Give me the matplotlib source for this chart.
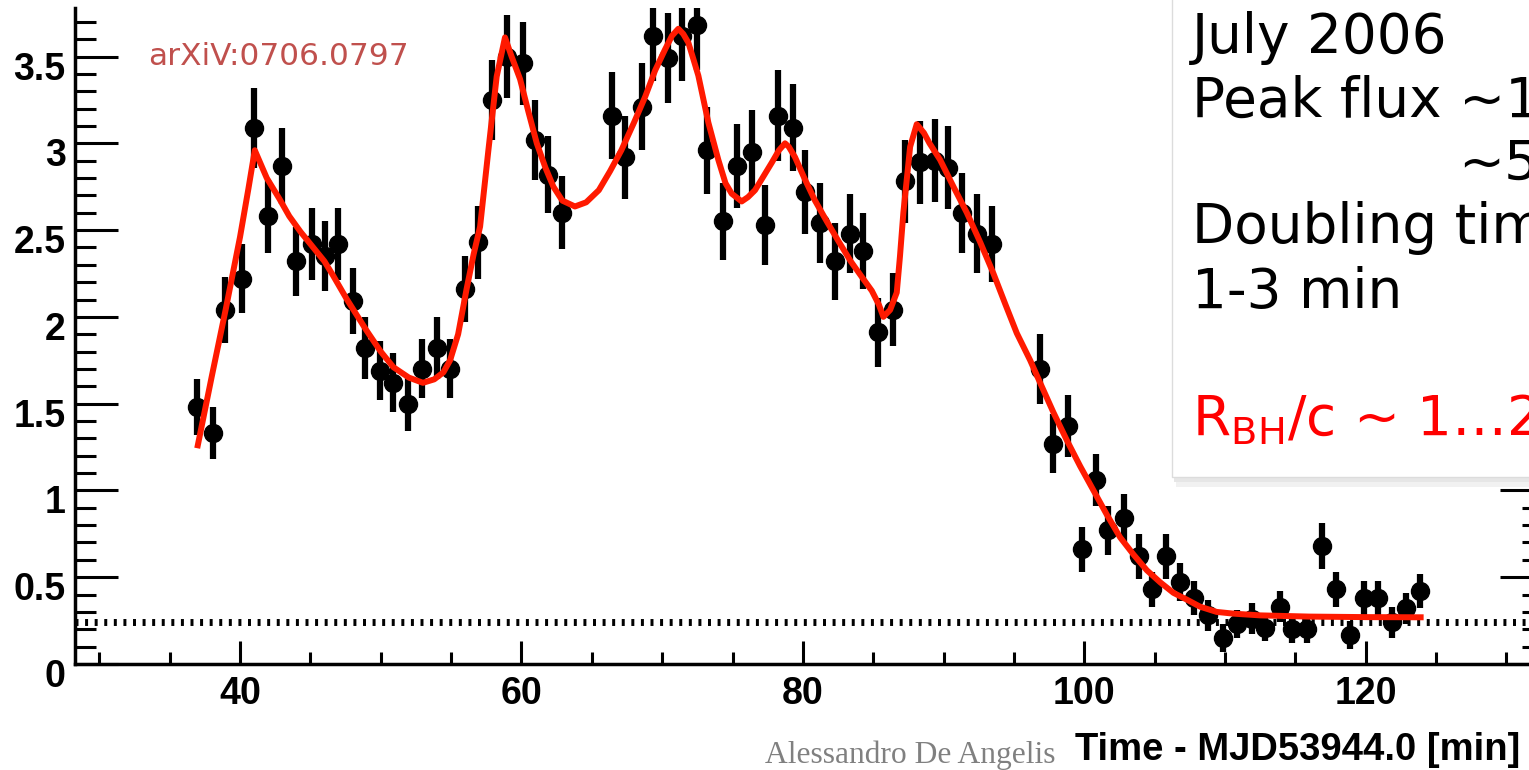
import matplotlib
matplotlib.use("Agg")
import matplotlib.pyplot as plt
from matplotlib.patches import Rectangle
from matplotlib.ticker import FixedLocator, MultipleLocator
from matplotlib.transforms import ScaledTranslation

# ===============================
# DATA
# ===============================
time_min = [36.97, 38.06, 38.93, 40.12, 40.99, 42.01, 42.96, 43.98, 45.10, 46.04,
            46.99, 48.05, 48.88, 49.95, 50.90, 51.96, 52.91, 53.98, 54.93, 55.99,
            56.94, 57.89, 58.96, 60.14, 60.97, 61.91, 62.89,
            66.42, 67.36, 68.55, 69.37, 70.44, 71.40, 72.46, 73.17, 74.35, 75.30,
            76.37, 77.31, 78.26, 79.32, 80.16, 81.22, 82.29, 83.35, 84.30, 85.37,
            86.43, 87.26, 88.33, 89.40, 90.34, 91.29, 92.36, 93.42,
            96.87, 97.76, 98.87, 99.82, 100.84, 101.71, 102.83, 103.85, 104.80,
            105.79, 106.81, 107.82, 108.82, 109.84, 110.83, 111.89, 112.85,
            113.92, 114.75, 115.83, 116.88, 117.90, 118.85, 119.85, 120.88,
            121.84, 122.84, 123.87]

flux = [1.48, 1.33, 2.04, 2.22, 3.09, 2.58, 2.87, 2.32, 2.42, 2.35,
        2.42, 2.09, 1.82, 1.69, 1.62, 1.50, 1.70, 1.82, 1.70, 2.16,
        2.43, 3.25, 3.50, 3.46, 3.02, 2.82, 2.60,
        3.16, 2.92, 3.21, 3.62, 3.49, 3.62, 3.68, 2.96, 2.55, 2.87,
        2.95, 2.53, 3.16, 3.09, 2.72, 2.54, 2.32, 2.48, 2.38, 1.91,
        2.04, 2.78, 2.89, 2.90, 2.86, 2.60, 2.48, 2.42,
        1.70, 1.27, 1.37, 0.66, 1.06, 0.77, 0.84, 0.62, 0.43,
        0.62, 0.47, 0.38, 0.28, 0.15, 0.23, 0.26, 0.21,
        0.33, 0.20, 0.20, 0.68, 0.43, 0.165, 0.38, 0.38,
        0.24, 0.32, 0.42]

flux_err = [0.16, 0.15, 0.19, 0.20, 0.23, 0.21, 0.22, 0.20, 0.21, 0.20,
            0.21, 0.19, 0.18, 0.17, 0.17, 0.16, 0.17, 0.18, 0.17, 0.19,
            0.21, 0.23, 0.24, 0.24, 0.23, 0.22, 0.21,
            0.25, 0.24, 0.25, 0.26, 0.26, 0.26, 0.26, 0.25, 0.22, 0.24,
            0.24, 0.23, 0.26, 0.25, 0.24, 0.23, 0.22, 0.23, 0.22, 0.20,
            0.21, 0.24, 0.24, 0.24, 0.24, 0.23, 0.23, 0.22,
            0.20, 0.17, 0.18, 0.13, 0.15, 0.14, 0.14, 0.13, 0.10,
            0.13, 0.11, 0.10, 0.09, 0.08, 0.08, 0.09, 0.08,
            0.09, 0.08, 0.08, 0.13, 0.10, 0.08, 0.10, 0.10,
            0.09, 0.09, 0.10]

# fitted curve, points
fit_t = [37.0, 38.0, 39.0, 40.0, 40.6, 41.05, 41.9, 42.8, 43.5, 44.3,
         45.2, 46.0, 46.6, 47.6, 48.3, 49.0, 50.0, 50.9, 52.0, 53.0,
         53.8, 54.45, 54.93, 55.5, 56.1, 56.6, 57.06, 57.65, 58.24, 58.83,
         59.3, 59.9, 60.5, 61.09, 61.7, 62.27, 62.9, 63.8, 64.6, 65.5,
         66.3, 67.1, 68.0, 68.8, 69.5, 70.2, 70.7, 71.15, 71.5, 71.86,
         72.2, 72.57, 73.28, 73.99, 74.5, 74.94, 75.65, 76.1, 76.6, 77.2,
         77.8, 78.3, 78.73, 79.0, 79.44, 80.1, 80.86, 81.7, 82.5, 83.4,
         84.1, 84.9, 85.4, 85.72, 86.2, 86.67, 86.9, 87.14, 87.62, 88.09,
         88.6, 89.0, 89.75, 90.7, 91.65, 92.6, 93.54, 94.4, 95.2, 96.15,
         96.86, 97.8, 98.75, 99.7, 100.65, 101.6, 102.54, 103.5, 104.44, 105.4,
         106.33, 107.3, 108.23, 109.4, 110.6, 112.5, 116.0, 120.0, 123.9]
fit_flux = [1.26, 1.66, 2.05, 2.46, 2.74, 2.96, 2.80, 2.68, 2.58, 2.49,
            2.40, 2.32, 2.24, 2.10, 2.01, 1.92, 1.80, 1.71, 1.65, 1.62,
            1.64, 1.68, 1.75, 1.90, 2.16, 2.36, 2.52, 2.96, 3.385, 3.61,
            3.50, 3.37, 3.18, 3.00, 2.86, 2.75, 2.67, 2.636, 2.66, 2.73,
            2.84, 2.96, 3.12, 3.27, 3.42, 3.54, 3.62, 3.66, 3.63, 3.58,
            3.49, 3.39, 3.12, 2.905, 2.77, 2.71, 2.665, 2.69, 2.73, 2.81,
            2.89, 2.96, 3.00, 2.98, 2.92, 2.80, 2.67, 2.55, 2.44, 2.32,
            2.24, 2.15, 2.07, 2.00, 2.04, 2.14, 2.35, 2.60, 2.98, 3.11,
            3.06, 3.00, 2.905, 2.75, 2.60, 2.43, 2.25, 2.07, 1.906, 1.75,
            1.62, 1.45, 1.29, 1.14, 1.00, 0.86, 0.73, 0.63, 0.54, 0.47,
            0.41, 0.37, 0.33, 0.30, 0.29, 0.28, 0.273, 0.27, 0.269]

baseline_flux = 0.24

x_ticks = [40, 60, 80, 100, 120]
y_ticks = [0, 0.5, 1, 1.5, 2, 2.5, 3, 3.5]
y_tick_labels = ["0", "0.5", "1", "1.5", "2", "2.5", "3", "3.5"]

# ===============================
# FIGURE
# ===============================
plt.rcParams["font.family"] = "Liberation Sans"
plt.rcParams["font.weight"] = "bold"
plt.rcParams["mathtext.default"] = "regular"

fig = plt.figure(figsize=(15.29, 7.70), dpi=100)
ax = fig.add_axes([0.0493, 0.1377, 0.9599, 0.8520])

ax.axhline(baseline_flux, color="black", lw=5, linestyle=(0, (0.43, 0.95)), zorder=1)
ax.errorbar(time_min, flux, yerr=flux_err, fmt="o", color="black", ms=13,
            elinewidth=4.5, capsize=0, zorder=2)
ax.plot(fit_t, fit_flux, color="#ff1a00", lw=4.3, zorder=3)

ax.set_xlim(28.3, 132.6)
ax.set_ylim(0, 3.78)

for side in ["left", "bottom", "right"]:
    ax.spines[side].set_linewidth(2.5)
ax.spines["top"].set_visible(False)

ax.xaxis.set_major_locator(FixedLocator(x_ticks))
ax.xaxis.set_minor_locator(MultipleLocator(5))
ax.set_yticks(y_ticks)
ax.set_yticklabels(y_tick_labels)
ax.yaxis.set_minor_locator(MultipleLocator(0.1))

ax.tick_params(axis="x", which="major", direction="in", length=16.5, width=2.2,
               pad=9, labelsize=27)
ax.tick_params(axis="x", which="minor", direction="in", length=8.6, width=2.2)
ax.tick_params(axis="y", which="major", direction="in", length=31, width=2.2,
               pad=7, labelsize=27, right=True)
ax.tick_params(axis="y", which="minor", direction="in", length=15, width=2.2,
               right=True)

# ROOT style: y labels sit a bit below their ticks
shift = ScaledTranslation(0, -0.09, fig.dpi_scale_trans)
for lab in ax.get_yticklabels():
    lab.set_transform(lab.get_transform() + shift)

# ===============================
# ANNOTATIONS
# ===============================
fig.text(148 / 1529, 1 - 65 / 770, "arXiV:0706.0797", color="#c0504d",
         fontsize=22.5, family="DejaVu Sans", weight="normal", va="baseline")

fig.text(1520 / 1529, 10 / 770, "Time - MJD53944.0 [min]", ha="right",
         va="baseline", fontsize=27.5, weight="bold")

fig.text(765 / 1529, 7 / 770, "Alessandro De Angelis", color="#808080",
         fontsize=22.7, family="Liberation Serif", weight="normal", va="baseline")

# info box on the right (cut by the slide edge)
fig.add_artist(Rectangle((1176 / 1529, 1 - 487 / 770), 0.3, 12 / 770,
                         transform=fig.transFigure, facecolor="#f1f1f1",
                         edgecolor="none", zorder=4.8))
fig.add_artist(Rectangle((1174 / 1529, 1 - 482 / 770), 0.3, 7 / 770,
                         transform=fig.transFigure, facecolor="#e6e6e6",
                         edgecolor="none", zorder=4.9))
fig.add_artist(Rectangle((1172 / 1529, 1 - 477 / 770), 0.3, 477 / 770 + 0.01,
                         transform=fig.transFigure, facecolor="white",
                         edgecolor="#dcdcdc", lw=1, zorder=5))

box_x = 1192 / 1529
box_kw = dict(fontsize=39.5, family="DejaVu Sans", weight="normal",
              va="baseline", zorder=6)
fig.text(box_x, 1 - 53 / 770, "July 2006", **box_kw)
fig.text(box_x, 1 - 117 / 770, "Peak flux ~1", **box_kw)
fig.text(1458 / 1529, 1 - 180 / 770, "~5", **box_kw)
fig.text(box_x, 1 - 243 / 770, "Doubling tim", **box_kw)
fig.text(box_x, 1 - 308 / 770, "1-3 min", **box_kw)
fig.text(box_x, 1 - 435 / 770, "R$_{BH}$/c ~ 1…2", color="red", **box_kw)

fig.savefig("out.png", dpi=100)
